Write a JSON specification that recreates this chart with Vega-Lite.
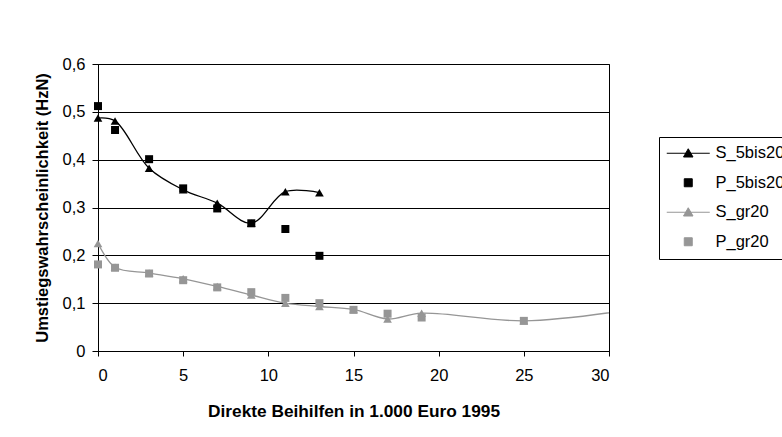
{
  "$schema": "https://vega.github.io/schema/vega-lite/v6.json",
  "width": 511,
  "height": 287,
  "autosize": {"type": "none"},
  "padding": {"left": 98, "top": 64, "right": 173, "bottom": 86},
  "background": "white",
  "config": {
    "view": {"stroke": "black", "strokeWidth": 1},
    "font": "Liberation Sans"
  },
  "data": {
    "values": [
      {"series": "S_5bis20", "x": 0, "y": 0.487},
      {"series": "S_5bis20", "x": 1, "y": 0.481},
      {"series": "S_5bis20", "x": 3, "y": 0.382},
      {"series": "S_5bis20", "x": 5, "y": 0.337},
      {"series": "S_5bis20", "x": 7, "y": 0.309},
      {"series": "S_5bis20", "x": 9, "y": 0.267},
      {"series": "S_5bis20", "x": 11, "y": 0.333},
      {"series": "S_5bis20", "x": 13, "y": 0.331},
      {"series": "P_5bis20", "x": 0, "y": 0.512},
      {"series": "P_5bis20", "x": 1, "y": 0.462},
      {"series": "P_5bis20", "x": 3, "y": 0.401},
      {"series": "P_5bis20", "x": 5, "y": 0.340},
      {"series": "P_5bis20", "x": 7, "y": 0.298},
      {"series": "P_5bis20", "x": 9, "y": 0.267},
      {"series": "P_5bis20", "x": 11, "y": 0.255},
      {"series": "P_5bis20", "x": 13, "y": 0.199},
      {"series": "S_gr20", "x": 0, "y": 0.225},
      {"series": "S_gr20", "x": 1, "y": 0.175},
      {"series": "S_gr20", "x": 3, "y": 0.163},
      {"series": "S_gr20", "x": 5, "y": 0.151},
      {"series": "S_gr20", "x": 7, "y": 0.135},
      {"series": "S_gr20", "x": 9, "y": 0.117},
      {"series": "S_gr20", "x": 11, "y": 0.100},
      {"series": "S_gr20", "x": 13, "y": 0.093},
      {"series": "S_gr20", "x": 15, "y": 0.087},
      {"series": "S_gr20", "x": 17, "y": 0.067},
      {"series": "S_gr20", "x": 19, "y": 0.079},
      {"series": "S_gr20", "x": 25, "y": 0.063},
      {"series": "S_gr20", "x": 31, "y": 0.085},
      {"series": "P_gr20", "x": 0, "y": 0.181},
      {"series": "P_gr20", "x": 1, "y": 0.174},
      {"series": "P_gr20", "x": 3, "y": 0.162},
      {"series": "P_gr20", "x": 5, "y": 0.148},
      {"series": "P_gr20", "x": 7, "y": 0.133},
      {"series": "P_gr20", "x": 9, "y": 0.123},
      {"series": "P_gr20", "x": 11, "y": 0.111},
      {"series": "P_gr20", "x": 13, "y": 0.100},
      {"series": "P_gr20", "x": 15, "y": 0.086},
      {"series": "P_gr20", "x": 17, "y": 0.078},
      {"series": "P_gr20", "x": 19, "y": 0.070},
      {"series": "P_gr20", "x": 25, "y": 0.063}
    ]
  },
  "encoding": {
    "x": {
      "field": "x",
      "type": "quantitative",
      "scale": {"domain": [0, 30], "nice": false, "zero": false},
      "axis": {
        "values": [0, 5, 10, 15, 20, 25, 30],
        "grid": false,
        "domainColor": "black",
        "tickColor": "black",
        "tickSize": 5,
        "labelFontSize": 16.5,
        "labelColor": "black",
        "labelPadding": 11,
        "title": "Direkte Beihilfen in 1.000 Euro 1995",
        "titleFontSize": 17.3,
        "titleFontWeight": "bold",
        "titleColor": "black",
        "titlePadding": 19
      }
    },
    "y": {
      "field": "y",
      "type": "quantitative",
      "scale": {"domain": [0, 0.6], "nice": false},
      "axis": {
        "values": [0, 0.1, 0.2, 0.3, 0.4, 0.5, 0.6],
        "labelExpr": "datum.value == 0 ? '0' : replace(format(datum.value, '.1f'), '.', ',')",
        "grid": true,
        "gridColor": "black",
        "gridWidth": 1,
        "domainColor": "black",
        "tickColor": "black",
        "tickSize": 6,
        "labelFontSize": 16.5,
        "labelColor": "black",
        "labelPadding": 7,
        "title": "Umstiegswahrscheinlichkeit (HzN)",
        "titleFontSize": 16.5,
        "titleFontWeight": "bold",
        "titleColor": "black",
        "titlePadding": 12
      }
    },
    "color": {
      "field": "series",
      "type": "nominal",
      "scale": {
        "domain": ["S_5bis20", "P_5bis20", "S_gr20", "P_gr20"],
        "range": ["#000000", "#000000", "#969696", "#969696"]
      },
      "legend": {
        "orient": "none",
        "legendX": 561,
        "legendY": 73,
        "title": null,
        "padding": 8,
        "strokeColor": "black",
        "fillColor": "white",
        "labelFontSize": 16.5,
        "labelColor": "black",
        "rowPadding": 12.5,
        "symbolSize": 100,
        "symbolOffset": 13,
        "labelOffset": 19,
        "encode": {
          "symbols": {
            "update": {
              "shape": {"signal": "indexof(datum.value, 'S_') == 0 ? 'M-4.3,0H4.3M0,-0.9L0.95,0.75H-0.95Z' : 'M-0.8,-0.8H0.8V0.8H-0.8Z'"},
              "fill": {"signal": "indexof(datum.value, '5bis') >= 0 ? '#000000' : '#969696'"},
              "stroke": {"signal": "indexof(datum.value, '5bis') >= 0 ? '#000000' : '#969696'"},
              "strokeWidth": {"value": 1},
              "size": {"value": 100},
              "opacity": {"value": 1}
            }
          }
        }
      }
    }
  },
  "layer": [
    {
      "transform": [{"filter": "indexof(datum.series, 'S_') == 0"}],
      "mark": {"type": "line", "interpolate": "catmull-rom", "strokeWidth": 1.3, "clip": true}
    },
    {
      "transform": [{"filter": "datum.x <= 30 && indexof(datum.series, 'S_') == 0"}],
      "mark": {"type": "point", "filled": true, "opacity": 1, "size": 75, "shape": "triangle-up"}
    },
    {
      "transform": [{"filter": "indexof(datum.series, 'P_') == 0"}],
      "mark": {"type": "point", "filled": true, "opacity": 1, "size": 64, "shape": "square"}
    }
  ]
}
